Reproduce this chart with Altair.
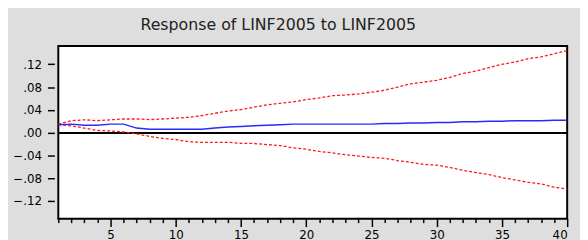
import altair as alt
import pandas as pd

periods = list(range(1, 41))
response = [0.014, 0.015, 0.013, 0.013, 0.015, 0.015, 0.008, 0.006, 0.006, 0.006,
            0.006, 0.006, 0.008, 0.010, 0.011, 0.012, 0.013, 0.014, 0.015, 0.015,
            0.015, 0.015, 0.015, 0.015, 0.015, 0.016, 0.016, 0.017, 0.017, 0.018,
            0.018, 0.019, 0.019, 0.020, 0.020, 0.021, 0.021, 0.021, 0.022, 0.022]
upper = [0.015, 0.021, 0.0226, 0.021, 0.0226, 0.024, 0.024, 0.023, 0.024, 0.0255,
         0.027, 0.030, 0.034, 0.038, 0.0405, 0.0447, 0.0487, 0.0516, 0.054, 0.058,
         0.061, 0.065, 0.066, 0.068, 0.071, 0.0745, 0.080, 0.0857, 0.0887, 0.092,
         0.0969, 0.104, 0.108, 0.114, 0.120, 0.124, 0.130, 0.133, 0.1386, 0.144]
lower = [0.014, 0.012, 0.008, 0.004, 0.003, 0.0012, -0.002, -0.0065, -0.010, -0.012,
         -0.016, -0.017, -0.0172, -0.017, -0.0186, -0.019, -0.021, -0.0226, -0.0266, -0.029,
         -0.033, -0.0354, -0.0388, -0.041, -0.0435, -0.045, -0.049, -0.052, -0.0557, -0.057,
         -0.061, -0.066, -0.070, -0.0736, -0.0788, -0.083, -0.087, -0.090, -0.0957, -0.099]
y_ticks = [-0.12, -0.08, -0.04, 0.0, 0.04, 0.08, 0.12]
title_text = "Response of LINF2005 to LINF2005"

df = pd.DataFrame({"t": periods, "resp": response, "up": upper, "lo": lower})

x_enc = alt.X(
    "t:Q",
    scale=alt.Scale(domain=[1, 40], nice=False, zero=False),
    axis=alt.Axis(
        values=periods,
        tickCount=200,
        format="d",
        title=None,
        domain=False,
        grid=False,
        tickColor="black",
        tickWidth=1.5,
        tickSize={"condition": {"test": "datum.value % 5 === 0", "value": 8}, "value": 4},
        labelExpr="datum.value % 5 === 0 ? datum.label : ''",
        labelOverlap=False,
        labelFont="DejaVu Sans",
        labelFontSize=12,
        labelColor="black",
        labelPadding=3,
    ),
)

y_scale = alt.Scale(domain=[-0.151, 0.152], nice=False, zero=False)
y_axis = alt.Axis(
    values=y_ticks,
    tickCount=200,
    title=None,
    domain=False,
    grid=False,
    offset=4,
    tickColor="black",
    tickWidth=1.5,
    tickSize=7,
    labelOverlap=False,
    labelExpr="replace(format(datum.value, '.2f'), '0.', '.')",
    labelFont="DejaVu Sans",
    labelFontSize=12,
    labelColor="black",
    labelPadding=6,
)

base = alt.Chart(df)

upper_line = base.mark_line(color="#ff1a1a", strokeDash=[3, 2], strokeWidth=1.3).encode(
    x=x_enc, y=alt.Y("up:Q", scale=y_scale, axis=y_axis)
)
lower_line = base.mark_line(color="#ff1a1a", strokeDash=[3, 2], strokeWidth=1.3).encode(
    x="t:Q", y="lo:Q"
)
resp_line = base.mark_line(color="#2a2aff", strokeWidth=1.5).encode(
    x="t:Q", y="resp:Q"
)
zero_rule = base.mark_rule(color="black", strokeWidth=1.5).encode(y=alt.datum(0))

chart = (
    alt.layer(zero_rule, upper_line, lower_line, resp_line)
    .properties(
        width=516,
        height=175,
        autosize=alt.AutoSizeParams(type="none"),
        padding={"left": 51, "top": 37, "right": 13, "bottom": 20},
        background="#dedede",
        title=alt.TitleParams(
            text=title_text,
            font="DejaVu Sans",
            fontSize=16,
            fontWeight="normal",
            color="#222222",
            anchor="middle",
            baseline="alphabetic",
            dx=-35,
            offset=0,
        ),
    )
    .configure_view(stroke="black", strokeWidth=2, fill="white")
)

chart.save("out.html", embed_options={"renderer": "svg", "actions": False})
